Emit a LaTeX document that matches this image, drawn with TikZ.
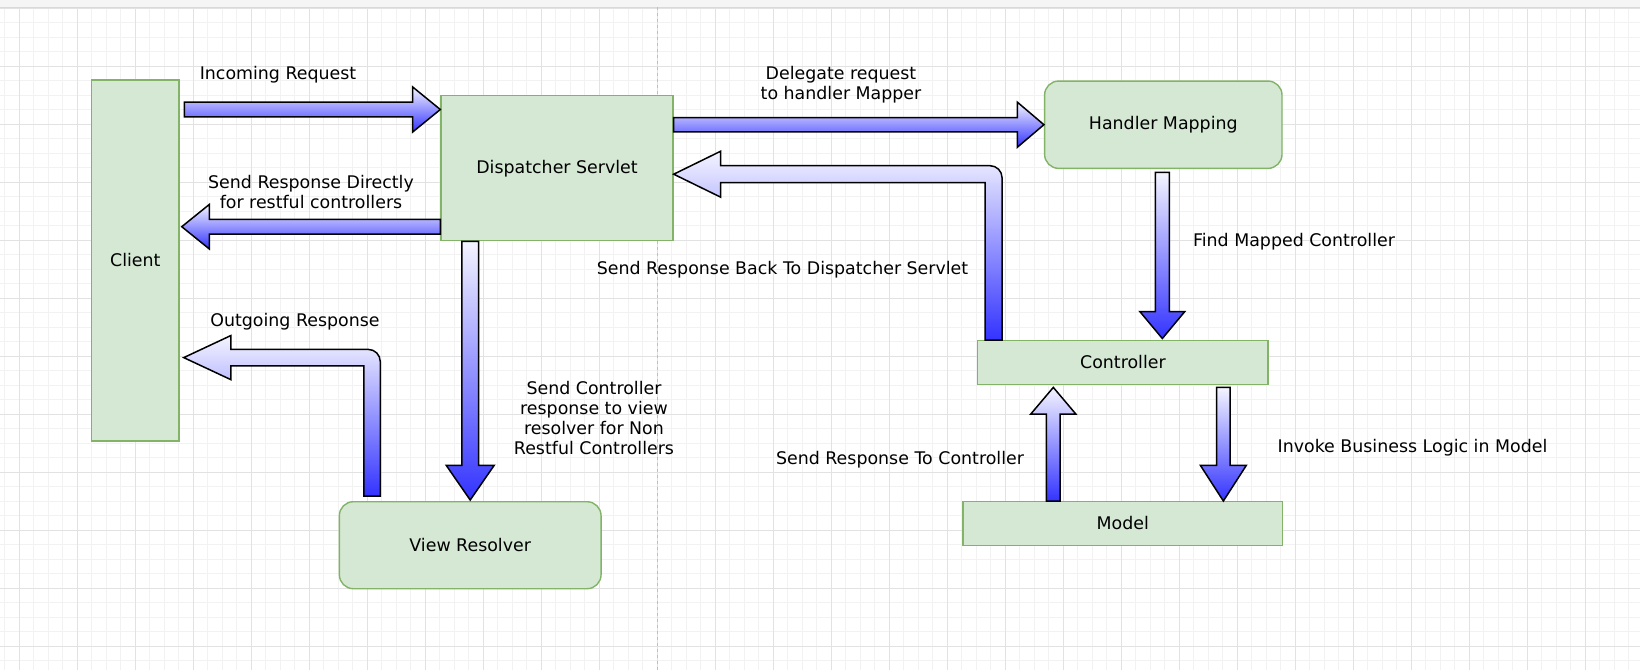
\documentclass[tikz,border=0pt]{standalone}
\usepackage{fontspec}
\setmainfont{DejaVu Sans}
\usetikzlibrary{calc}
\definecolor{boxfill}{HTML}{D5E8D4}
\definecolor{boxline}{HTML}{82B366}
\definecolor{arrowblue}{HTML}{3333FF}
\definecolor{arrowpale}{HTML}{F4F4FF}
\definecolor{gridminor}{HTML}{F2F2F2}
\definecolor{gridmajor}{HTML}{E2E2E2}

\begin{document}
\begin{tikzpicture}[x=1pt,y=-1pt,
	font=\fontsize{17.4}{20}\selectfont,
	box/.style={draw=boxline,fill=boxfill,line width=1.4pt,inner sep=0pt},
	roundbox/.style={box,rounded corners=14pt},
	blockarrow/.style={draw=black,line width=1.5pt,line join=miter,top color=arrowpale,bottom color=arrowblue},
	lbl/.style={align=center,inner sep=0pt,yshift=-1.5pt}]
	
	% tail, tip, shaft half width, head half width, head length
	\def\harrow#1#2#3#4#5{\path[blockarrow] ($(#1)+(0,-#3)$) -- ($(#2)+({-(#5)},-#3)$) -- ($(#2)+({-(#5)},-#4)$) -- (#2) -- ($(#2)+({-(#5)},#4)$) -- ($(#2)+({-(#5)},#3)$) -- ($(#1)+(0,#3)$) -- cycle;}
	\def\varrow#1#2#3#4#5{\path[blockarrow] ($(#1)+(-#3,0)$) -- ($(#2)+(-#3,{-(#5)})$) -- ($(#2)+(-#4,{-(#5)})$) -- (#2) -- ($(#2)+(#4,{-(#5)})$) -- ($(#2)+(#3,{-(#5)})$) -- ($(#1)+(#3,0)$) -- cycle;}
	% up, then left; last one is the corner radius
	\def\larrow#1#2#3#4#5#6{\coordinate (lc) at (#1 |- #2);
		\path[blockarrow] ($(#1)+(#3,0)$) -- ($(lc)+(#3,{#6-(#3)})$) arc[start angle=0,end angle=-90,radius=#6] -- ($(#2)+(#5,-#3)$) -- ($(#2)+(#5,-#4)$) -- (#2) -- ($(#2)+(#5,#4)$) -- ($(#2)+(#5,#3)$) -- ($(lc)+(-#3,#3)$) -- ($(#1)+(-#3,0)$) -- cycle;}
	
	\useasboundingbox (0,0) rectangle (1640,670);
	
	%GRID
	\fill[white] (0,0) rectangle (1640,670);
	\foreach \gx in {4.8,19.3,...,1640} \draw[gridminor,line width=1pt] (\gx,7) -- (\gx,670);
	\foreach \gy in {22.5,37,...,670} \draw[gridminor,line width=1pt] (0,\gy) -- (1640,\gy);
	\foreach \gx in {19.3,77.3,...,1640} \draw[gridmajor,line width=1pt] (\gx,7) -- (\gx,670);
	\foreach \gy in {8,66,...,670} \draw[gridmajor,line width=1pt] (0,\gy) -- (1640,\gy);
	\fill[gray!8] (0,0) rectangle (1640,7);
	\draw[gray!30,line width=1pt] (0,7) -- (1640,7);
	\draw[gray!50,line width=1pt,dash pattern=on 3pt off 3pt] (657.7,7) -- (657.7,670);
	
	%BOXES
	\node[box,minimum width=87.5pt,minimum height=361pt] (client) at (135.3,260.4) {Client};
	\node[box,minimum width=232pt,minimum height=145pt] (dispatcher) at (557,168.2) {Dispatcher Servlet};
	\node[roundbox,minimum width=237.4pt,minimum height=87.3pt] (handler) at (1163.3,124.7) {Handler Mapping};
	\node[box,minimum width=290.3pt,minimum height=43.6pt] (controller) at (1122.9,362.5) {Controller};
	\node[box,minimum width=319.6pt,minimum height=43.6pt] (model) at (1122.8,523.5) {Model};
	\node[roundbox,minimum width=261.7pt,minimum height=87pt] (viewres) at (470.2,545.2) {View Resolver};
	
	%BLOCK ARROWS
	\coordinate (inctail) at ($(client.north east)+(4.5,30.3)$);
	\coordinate (inctip) at (dispatcher.west |- inctail);
	\harrow{inctail}{inctip}{7.3}{22.5}{27.6}
	\coordinate (deltail) at (dispatcher.east |- handler.west);
	\harrow{deltail}{handler.west}{7.2}{22.5}{26.5}
	\coordinate (dirtail) at ($(dispatcher.south west)+(0,-14.7)$);
	\coordinate (dirtip) at ($(client.east |- dirtail)+(2,0)$);
	\harrow{dirtail}{dirtip}{7.3}{22.2}{-27.5}
	\coordinate (backtail) at ($(controller.north west)+(16.5,0)$);
	\coordinate (backtip) at ($(dispatcher.east)+(0,6)$);
	\larrow{backtail}{backtip}{8.5}{23}{47}{12}
	\coordinate (outtail) at ($(viewres.north west)+(33.4,-5)$);
	\coordinate (outtip) at ($(client.south east)+(4,-84)$);
	\larrow{outtail}{outtip}{8.2}{22}{47}{12}
	\coordinate (dvtail) at (viewres.north |- dispatcher.south);
	\coordinate (dvtip) at ($(viewres.north)+(0,-1)$);
	\varrow{dvtail}{dvtip}{8.3}{24}{34.7}
	\coordinate (hctail) at ($(handler.south)+(-1,3.4)$);
	\coordinate (hctip) at ($(hctail |- controller.north)+(0,-1.5)$);
	\varrow{hctail}{hctip}{7}{22.5}{27}
	\coordinate (mctail) at ($(model.north west)+(91,0)$);
	\coordinate (mctip) at ($(mctail |- controller.south)+(0,2.4)$);
	\varrow{mctail}{mctip}{6.9}{22.5}{-26.6}
	\coordinate (cmtail) at ($(controller.south west)+(246.3,2.4)$);
	\coordinate (cmtip) at (cmtail |- model.north);
	\varrow{cmtail}{cmtip}{6.8}{23}{35.7}
	
	%LABELS
	\node[lbl] (incl) at (278,72.7) {Incoming Request};
	\node[lbl] (dell) at (841,83.3) {Delegate request\\to handler Mapper};
	\node[lbl] (dirl) at (311,191) {Send Response Directly\\for restful controllers};
	\node[lbl] (backl) at (782.5,268.3) {Send Response Back To Dispatcher Servlet};
	\node[lbl] (findl) at (1294,240) {Find Mapped Controller};
	\node[lbl] (outl) at (295,320) {Outgoing Response};
	\node[lbl] (dvl) at (594,417) {Send Controller\\response to view\\resolver for Non\\Restful Controllers};
	\node[lbl] (mcl) at (900,457.7) {Send Response To Controller};
	\node[lbl] (cml) at (1412.5,446) {Invoke Business Logic in Model};
\end{tikzpicture}
\end{document}
